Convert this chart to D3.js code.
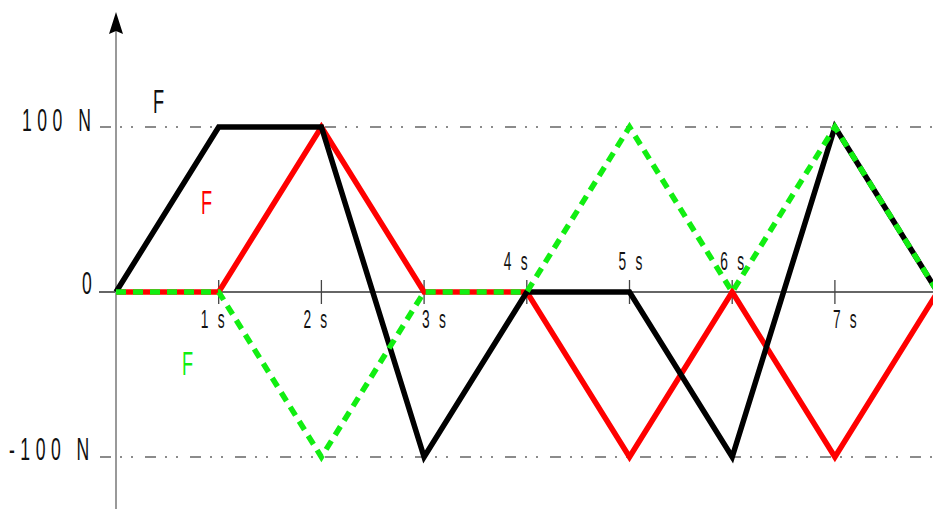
<!DOCTYPE html>
<html>
<head>
<meta charset="utf-8">
<script src="https://cdn.jsdelivr.net/npm/d3@7"></script>
<style>
  html, body { margin: 0; padding: 0; background: #fff; }
  svg { display: block; }
  text { font-family: "Liberation Sans", Arial, sans-serif; white-space: pre; }
</style>
</head>
<body>
<svg id="chart" width="933" height="509"></svg>
<script>
// time (s) and forces (N) for the three curves
const times = [0, 1, 2, 3, 4, 5, 6, 7, 8];
const blackF = [0, 100, 100, -100, 0, 0, -100, 100, 0];
const redF = [0, 0, 100, 0, 0, -100, 0, -100, 0];
const greenF = [0, 0, -100, 0, 0, 100, 0, 100, 0];

const secTicks = [1, 2, 3, 4, 5, 6, 7];
const secLabels = ['1 s', '2 s', '3 s', '4 s', '5 s', '6 s', '7 s'];
const forceLevels = [100, 0, -100];
const forceLabels = ['100 N', '0', '-100 N'];

// label placement (not data)
const tickLabelDx = [-18, -18, -2, -23, -11, -12, -2];
const tickLabelBelow = [true, true, true, false, false, false, true];

const svg = d3.select('#chart');
const x = d3.scaleLinear().domain([0, 8]).range([116, 937.6]);
const y = d3.scaleLinear().domain([-100, 100]).range([457, 127]);

const g = svg.append('g');

// dash-dot reference lines at +-100 N
[100, -100].forEach(v => {
  g.append('line')
    .attr('x1', 100).attr('x2', 933)
    .attr('y1', y(v)).attr('y2', y(v))
    .attr('stroke', '#666')
    .attr('stroke-width', 1.4)
    .attr('stroke-dasharray', '11,9,2,9,2,12');
});

// time axis
g.append('line')
  .attr('x1', 99).attr('x2', 933)
  .attr('y1', y(0)).attr('y2', y(0))
  .attr('stroke', '#333')
  .attr('stroke-width', 1.3);

g.selectAll('.tick')
  .data(secTicks)
  .enter().append('line')
  .attr('class', 'tick')
  .attr('x1', d => x(d)).attr('x2', d => x(d))
  .attr('y1', y(0) - 12).attr('y2', y(0) + 12)
  .attr('stroke', '#444')
  .attr('stroke-width', 1.3);

// force axis with arrow
g.append('line')
  .attr('x1', x(0)).attr('x2', x(0))
  .attr('y1', 30).attr('y2', 509)
  .attr('stroke', '#999')
  .attr('stroke-width', 2);
g.append('path')
  .attr('d', `M${x(0)},12 L${x(0) + 7},34 L${x(0)},31 L${x(0) - 7},34 Z`)
  .attr('fill', '#000');

// curves: red, black, then green dashed on top
const line = d3.line().x(d => x(d[0])).y(d => y(d[1]));
const series = [
  {vals: redF, color: '#ff0000', dash: null},
  {vals: blackF, color: '#000000', dash: null},
  {vals: greenF, color: '#11ee11', dash: '10,7'}
];
series.forEach(s => {
  g.append('path')
    .datum(times.map((t, i) => [t, s.vals[i]]))
    .attr('d', line)
    .attr('fill', 'none')
    .attr('stroke', s.color)
    .attr('stroke-width', 5.5)
    .attr('stroke-dasharray', s.dash);
});

// condensed, letter-spaced text (one tspan per character)
function label(tx, ty, str, size, color, sx, spacing) {
  const t = svg.append('text')
    .attr('transform', `translate(${tx},${ty}) scale(${sx},1)`)
    .attr('font-size', size)
    .attr('fill', color);
  str.split('').forEach((ch, i) => {
    t.append('tspan')
      .attr('dx', i === 0 ? 0 : (spacing || 0))
      .text(ch === ' ' ? '\u00a0' : ch);
  });
}

// force labels
const forceLabelX = [22, 82, 9];
const forceLabelY = [131, 294, 460];
forceLevels.forEach((v, i) => {
  label(forceLabelX[i], forceLabelY[i], forceLabels[i], 32, '#111', 0.55, 10);
});

// time labels
secTicks.forEach((t, i) => {
  label(x(t) + tickLabelDx[i], tickLabelBelow[i] ? 328 : 270, secLabels[i], 25, '#111', 0.55, 5);
});

// curve names
label(153, 113, 'F', 33, '#111', 0.55);
label(201, 214, 'F', 33, '#ff0000', 0.55);
label(182, 375, 'F', 33, '#11ee11', 0.55);
</script>
</body>
</html>
